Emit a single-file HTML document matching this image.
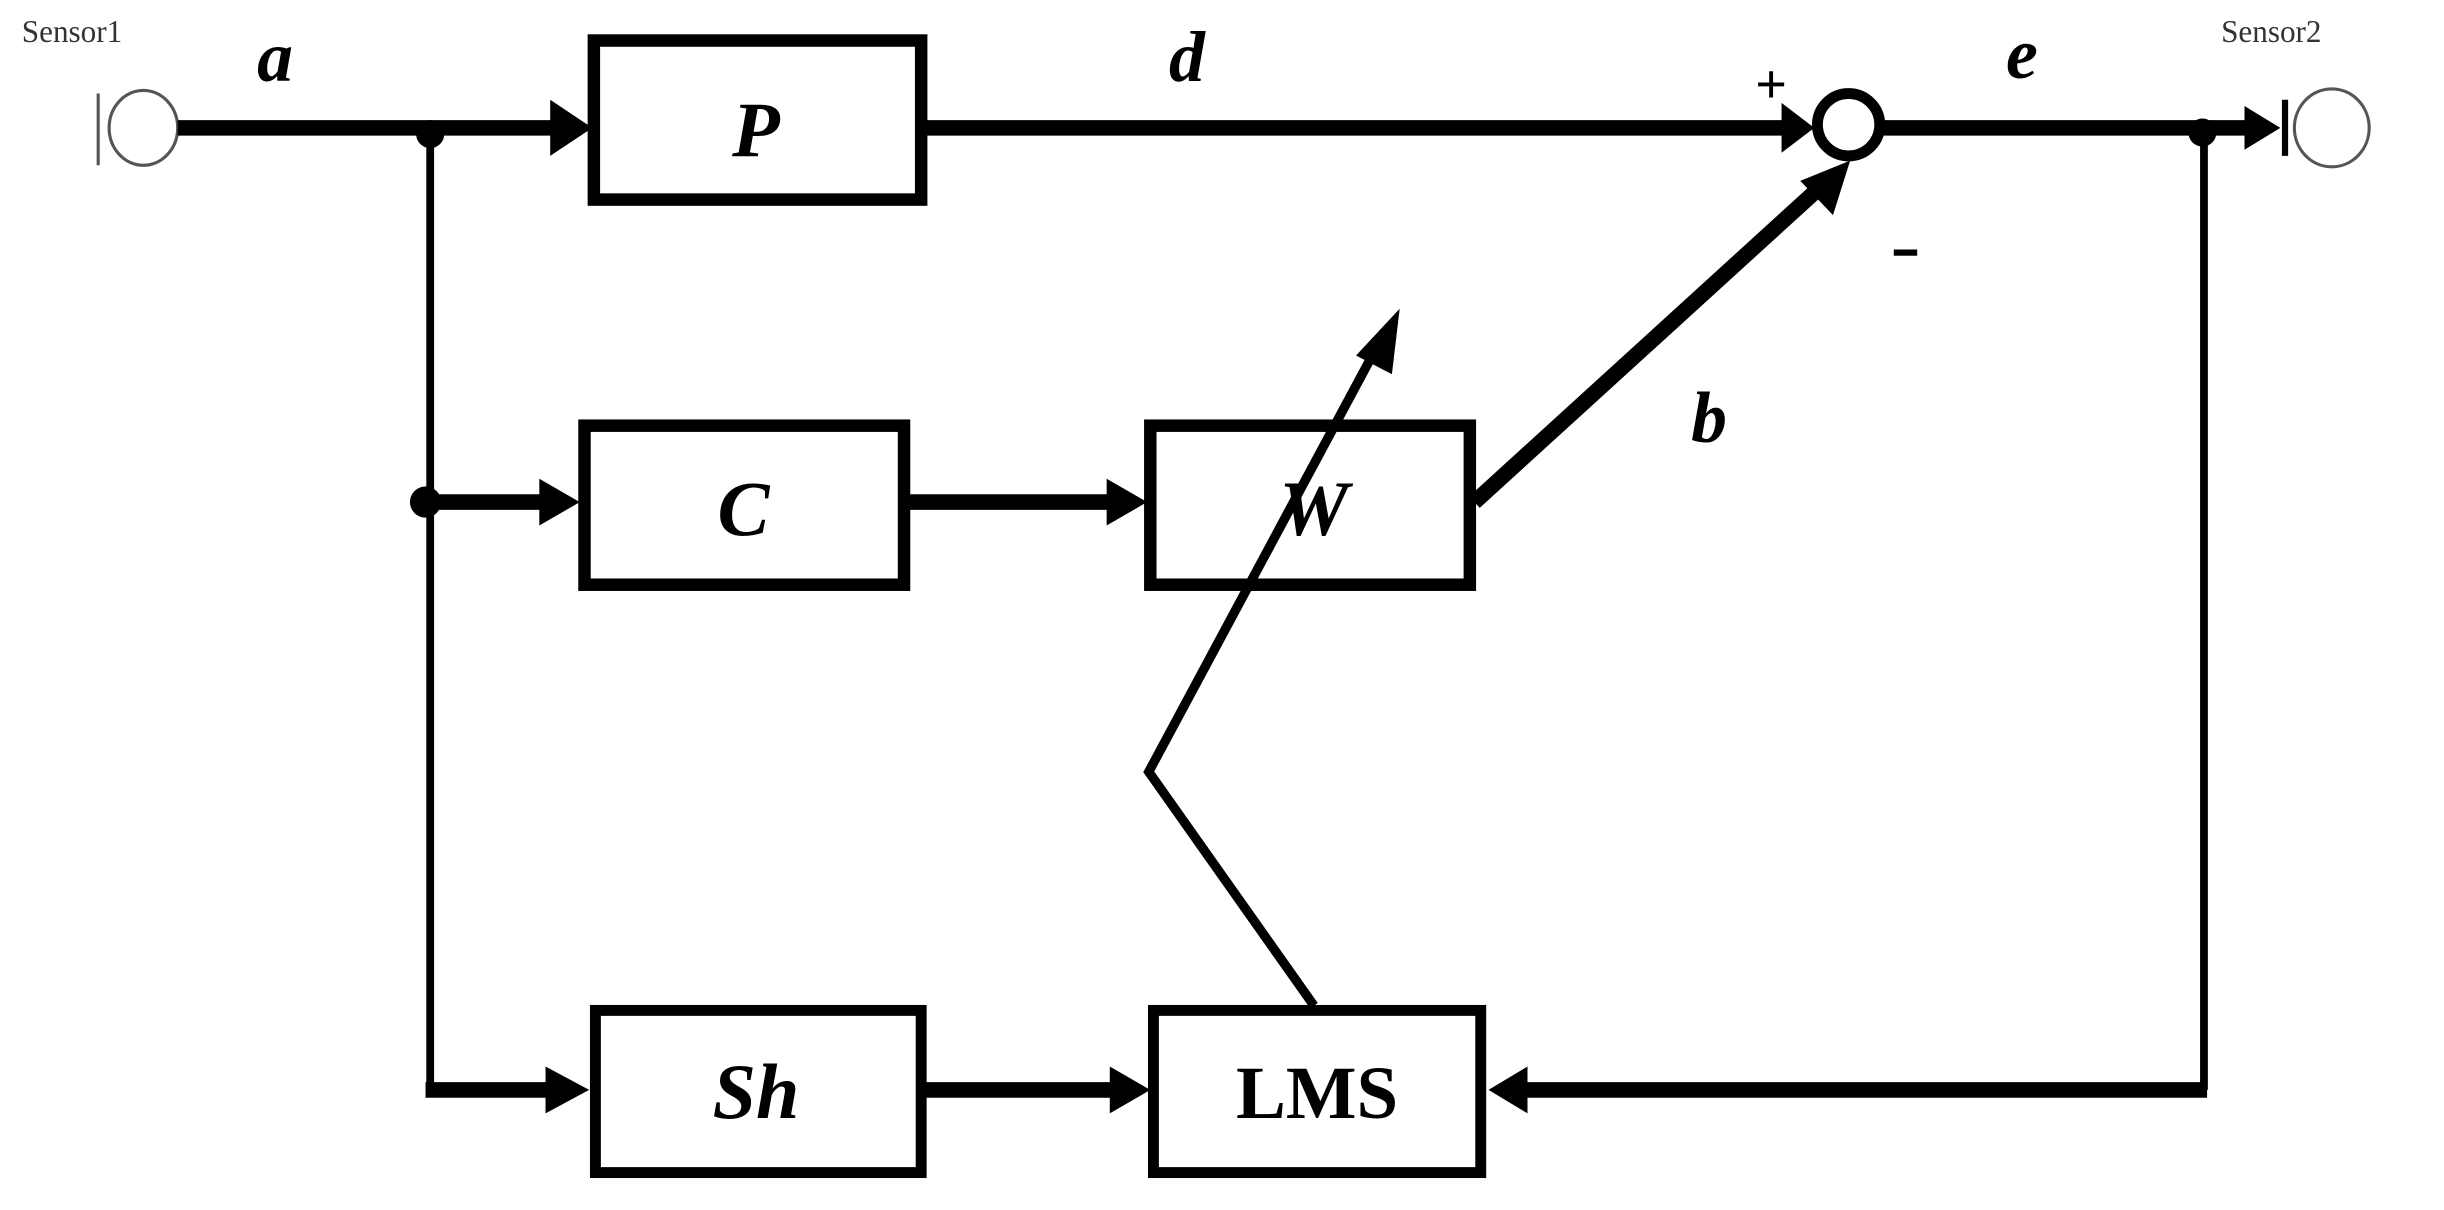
<!DOCTYPE html>
<html><head><meta charset="utf-8"><style>
html,body{margin:0;padding:0;background:#fff;width:2444px;height:1210px;overflow:hidden}
</style></head><body>
<svg width="2444" height="1210" viewBox="0 0 1568 776" preserveAspectRatio="none" xmlns="http://www.w3.org/2000/svg">
<rect width="1568" height="776" fill="#fff"/>
<g font-family="Liberation Serif, serif" fill="#000">
<text x="14" y="27" font-size="20" fill="#333">Sensor1</text>
<text x="1425" y="27" font-size="20" fill="#333">Sensor2</text>
<text x="165" y="52" font-size="46" font-weight="bold" font-style="italic">a</text>
<text x="750" y="52" font-size="46" font-weight="bold" font-style="italic">d</text>
<text x="1287" y="50" font-size="46" font-weight="bold" font-style="italic">e</text>
<text x="1085" y="283" font-size="46" font-weight="bold" font-style="italic">b</text>
<text x="1126" y="66" font-size="36" font-weight="bold">+</text>
<rect x="1215" y="160" width="15" height="4"/>
<text x="485" y="100" font-size="50" font-weight="bold" font-style="italic" text-anchor="middle">P</text>
<text x="477" y="343" font-size="50" font-weight="bold" font-style="italic" text-anchor="middle">C</text>
<text x="843" y="343" font-size="50" font-weight="bold" font-style="italic" text-anchor="middle">W</text>
<text x="485" y="717" font-size="50" font-weight="bold" font-style="italic" text-anchor="middle">Sh</text>
<text x="845" y="717" font-size="48" font-weight="bold" text-anchor="middle">LMS</text>
</g>
<g stroke="#000" fill="none">
<!-- sensors -->
<ellipse cx="92" cy="82" rx="22" ry="24" stroke="#555" stroke-width="2"/>
<line x1="63" y1="60" x2="63" y2="106" stroke="#555" stroke-width="2"/>
<ellipse cx="1496" cy="82" rx="24" ry="25" stroke="#555" stroke-width="2"/>
<line x1="1466" y1="64" x2="1466" y2="100" stroke-width="4"/>
<!-- main lines -->
<line x1="114" y1="82" x2="358" y2="82" stroke-width="10"/>
<line x1="593" y1="82" x2="1148" y2="82" stroke-width="10"/>
<line x1="1208" y1="82" x2="1442" y2="82" stroke-width="10"/>
<line x1="276" y1="82" x2="276" y2="699" stroke-width="5"/>
<line x1="1414" y1="82" x2="1414" y2="699" stroke-width="5"/>
<line x1="273" y1="699" x2="352" y2="699" stroke-width="10"/>
<line x1="1416" y1="699" x2="978" y2="699" stroke-width="10"/>
<line x1="593" y1="699" x2="714" y2="699" stroke-width="10"/>
<line x1="273" y1="322" x2="347" y2="322" stroke-width="10"/>
<line x1="583" y1="322" x2="712" y2="322" stroke-width="10"/>
<line x1="946" y1="322" x2="1170" y2="118" stroke-width="10"/>
<polyline points="843,645 737,495 882,225" stroke-width="6"/>
<!-- sum circle -->
<circle cx="1186" cy="80" r="20" stroke-width="7"/>
<!-- boxes -->
<rect x="381" y="26" width="210" height="102" stroke-width="8"/>
<rect x="375" y="273" width="205" height="102" stroke-width="8"/>
<rect x="738" y="273" width="205" height="102" stroke-width="8"/>
<rect x="382" y="648" width="209" height="104" stroke-width="7"/>
<rect x="740" y="648" width="210" height="104" stroke-width="7"/>
</g>
<g fill="#000">
<circle cx="276" cy="86" r="9"/>
<circle cx="273" cy="322" r="10"/>
<circle cx="1413" cy="85" r="9"/>
<polygon points="353,64 380,82 353,100"/>
<polygon points="346,307 372,322 346,337"/>
<polygon points="710,307 736,322 710,337"/>
<polygon points="350,684 378,699 350,714"/>
<polygon points="712,684 738,699 712,714"/>
<polygon points="980,684 955,699 980,714"/>
<polygon points="1143,66 1164,82 1143,98"/>
<polygon points="1440,68 1463,82 1440,96"/>
<polygon points="1187,103 1176,138 1155,116"/>
<polygon points="898,198 893,240 870,228"/>
</g>
</svg>
</body></html>
